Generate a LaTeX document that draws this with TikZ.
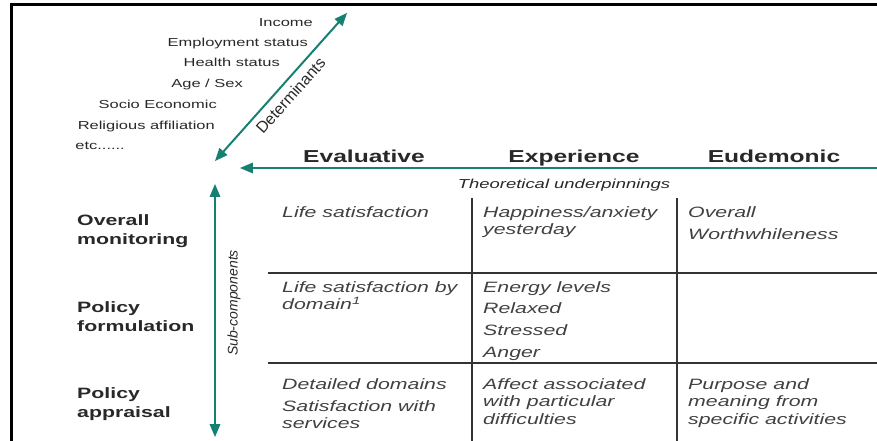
\documentclass[tikz,border=0pt]{standalone}
\usepackage{fontspec}
\setmainfont{Liberation Sans}[FakeStretch=1.42]
\newfontfamily\plainsans{Liberation Sans}
\usetikzlibrary{arrows, positioning}
\definecolor{detteal}{RGB}{22,128,114}
\definecolor{txtgrey}{RGB}{40,40,40}
\definecolor{cellgrey}{RGB}{65,65,65}

\begin{document}
\begin{tikzpicture}[x=1pt, y=-1pt,
  factor/.style={anchor=base east, inner sep=0pt, text=txtgrey, font=\fontsize{11.6}{14}\selectfont},
  head/.style={anchor=base, inner sep=0pt, text=txtgrey, font=\bfseries\fontsize{17.3}{20}\selectfont},
  purpose/.style={anchor=north west, align=left, inner sep=0pt, text=txtgrey, font=\bfseries\fontsize{15}{19}\selectfont},
  cell/.style={anchor=north west, align=left, inner sep=0pt, text=cellgrey, font=\itshape\fontsize{15}{17.5}\selectfont},
  tealarrow/.style={detteal, line width=2pt, triangle 45-triangle 45},
  tableline/.style={line width=1.6pt, black!80}]
 \useasboundingbox (0,0) rectangle (877,441);
 % frame
 \draw[line width=2.6pt] (11.5,441) -- (11.5,4.5) -- (877,4.5);

 % determinants
 \node[factor] (inc) at (313,27) {Income};
 \node[factor] (emp) at (308,47) {Employment status};
 \node[factor] (hea) at (280,67) {Health status};
 \node[factor] (age) at (243,88) {Age / Sex};
 \node[factor] (soc) at (217,109) {Socio Economic};
 \node[factor] (rel) at (215,129) {Religious affiliation};
 \node[factor] (etc) at (125,149) {etc......};
 \coordinate (dbot) at (215,161);
 \coordinate (dtop) at (347,13);
 \draw[tealarrow] (dbot) -- node[sloped, below=6pt, inner sep=0pt, text=txtgrey, font=\plainsans\fontsize{16}{18}\selectfont] (det) {Determinants} (dtop);

 % theoretical underpinnings
 \coordinate (hr) at (877,168);
 \coordinate (hl) at (240,168);
 \draw[detteal, line width=2pt, -triangle 45] (hr) -- (hl);
 \node[head] (eva) at (364,162) {Evaluative};
 \node[head] (exp) at (574,162) {Experience};
 \node[head] (eud) at (774,162) {Eudemonic};
 \node[anchor=base, inner sep=0pt, text=txtgrey, font=\itshape\fontsize{13}{15}\selectfont] (theo) at (564,188) {Theoretical underpinnings};

 % sub-components
 \coordinate (vt) at (215,184);
 \coordinate (vb) at (215,437);
 \draw[tealarrow] (vt) -- (vb);
 \node[rotate=90, inner sep=0pt, text=txtgrey, font=\plainsans\itshape\fontsize{14}{16}\selectfont] (sub) at (234,303) {Sub-components};

 \node[purpose] (mon) at (77,214) {Overall\\monitoring};
 \node[purpose] (form) at (77,301) {Policy\\formulation};
 \node[purpose] (appr) at (77,387) {Policy\\appraisal};

 % table
 \draw[tableline] (472,198) -- (472,441);
 \draw[tableline] (677,198) -- (677,441);
 \draw[tableline] (268,273) -- (877,273);
 \draw[tableline] (268,363) -- (877,363);

 \node[cell] (ls) at (282,204.75) {\strut Life satisfaction};
 \node[cell] (hap) at (483,204.75) {\strut Happiness/anxiety\\yesterday};
 \node[cell] (worth) at (688,204.75) {\strut Overall\\[4.5pt]Worthwhileness};

 \node[cell] (lsd) at (282,279.75) {\strut Life satisfaction by\\[-1.5pt]domain\textsuperscript{1}};
 \node[cell] (ene) at (483,279.75) {\strut Energy levels\\[4.2pt]Relaxed\\[4.2pt]Stressed\\[4.2pt]Anger};

 \node[cell] (dd) at (282,376.75) {\strut Detailed domains\\[4.5pt]Satisfaction with\\services};
 \node[cell] (aff) at (483,376.75) {\strut Affect associated\\with particular\\difficulties};
 \node[cell] (purp) at (688,376.75) {\strut Purpose and\\meaning from\\specific activities};
\end{tikzpicture}
\end{document}
